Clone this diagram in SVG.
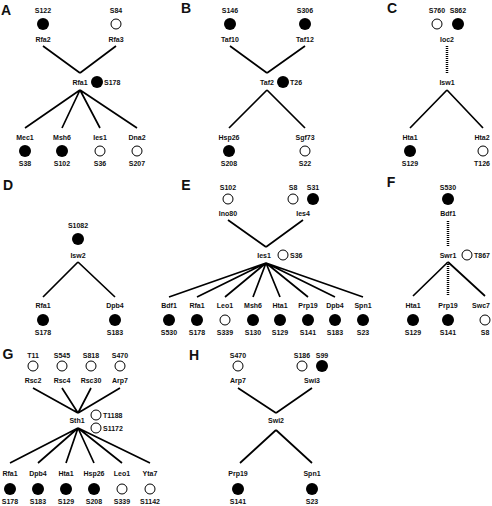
<svg xmlns="http://www.w3.org/2000/svg" width="492" height="506" viewBox="0 0 492 506">
<style>
text{font-family:"Liberation Sans",Arial,sans-serif;fill:#111}
.t{font-size:7px;font-weight:bold;text-anchor:middle}
.s{font-size:7px;font-weight:bold;text-anchor:start}
.L{font-size:14px;font-weight:bold;text-anchor:middle}
.f{fill:#000}
.o{fill:#fff;stroke:#000;stroke-width:1}
.e{stroke:#000;stroke-width:1.7;fill:none}
.d{stroke:#000;stroke-width:2.5;stroke-dasharray:1 1;fill:none}
</style>
<rect width="492" height="506" fill="#fff"/>
<g id="labels">
<text class="L" x="6" y="15">A</text>
<text class="L" x="186" y="13">B</text>
<text class="L" x="392" y="13">C</text>
<text class="L" x="8" y="190">D</text>
<text class="L" x="186" y="190">E</text>
<text class="L" x="391" y="187">F</text>
<text class="L" x="8" y="359">G</text>
<text class="L" x="194" y="360">H</text>
</g>
<g id="connectors">
<path class="e" d="M43,46L80,73M116,46L80,73M80,90L25,128M80,90L62,128M80,90L100,128M80,90L137,128"/>
<path class="e" d="M230,46L267,73M305,46L267,73M267,90L229,128M267,90L305,128"/>
<path class="d" d="M447,46L447,73"/>
<path class="e" d="M447,90L410,128M447,90L483,128"/>
<path class="e" d="M78,262L43,297M78,262L115,297"/>
<path class="e" d="M228,220L266,247M303,220L266,247M266,263L169,297M266,263L197,297M266,263L225,297M266,263L253,297M266,263L280,297M266,263L308,297M266,263L335,297M266,263L363,297"/>
<path class="d" d="M448,221L448,246M448,262L448,296"/>
<path class="e" d="M448,262L413,296M448,262L485,296"/>
<path class="e" d="M33,388L78,413M62,388L78,413M91,388L78,413M120,388L78,413M78,428L10,463M78,428L38,463M78,428L66,463M78,428L94,463M78,428L122,463M78,428L150,463"/>
<path class="e" d="M238,388L276,413M312,388L276,413M276,430L240,463M276,430L312,463"/>
</g>
<!-- Panel A -->
<g id="A_Rfa2"><text class="t" x="43" y="12.5">S122</text><circle class="f" cx="43" cy="24" r="6"/><text class="t" x="43" y="41.5">Rfa2</text></g>
<g id="A_Rfa3"><text class="t" x="116" y="12.5">S84</text><circle class="o" cx="116" cy="24" r="5"/><text class="t" x="116" y="41.5">Rfa3</text></g>
<g id="A_Rfa1"><text class="t" x="80" y="84.5">Rfa1</text><circle class="f" cx="97" cy="82" r="6"/><text class="s" x="104" y="84.5">S178</text></g>
<g id="A_Mec1"><text class="t" x="25" y="139.5">Mec1</text><circle class="f" cx="25" cy="151" r="6"/><text class="t" x="25" y="165.5">S38</text></g>
<g id="A_Msh6"><text class="t" x="62" y="139.5">Msh6</text><circle class="f" cx="62" cy="151" r="6"/><text class="t" x="62" y="165.5">S102</text></g>
<g id="A_Ies1"><text class="t" x="100" y="139.5">Ies1</text><circle class="o" cx="100" cy="151" r="5"/><text class="t" x="100" y="165.5">S36</text></g>
<g id="A_Dna2"><text class="t" x="137" y="139.5">Dna2</text><circle class="o" cx="137" cy="151" r="5"/><text class="t" x="137" y="165.5">S207</text></g>
<!-- Panel B -->
<g id="B_Taf10"><text class="t" x="230" y="12.5">S146</text><circle class="f" cx="230" cy="24" r="6"/><text class="t" x="230" y="41.5">Taf10</text></g>
<g id="B_Taf12"><text class="t" x="305" y="12.5">S306</text><circle class="f" cx="305" cy="24" r="6"/><text class="t" x="305" y="41.5">Taf12</text></g>
<g id="B_Taf2"><text class="t" x="267" y="84.5">Taf2</text><circle class="f" cx="283" cy="82" r="6"/><text class="s" x="290" y="84.5">T26</text></g>
<g id="B_Hsp26"><text class="t" x="229" y="139.5">Hsp26</text><circle class="f" cx="229" cy="151" r="6"/><text class="t" x="229" y="165.5">S208</text></g>
<g id="B_Sgf73"><text class="t" x="305" y="139.5">Sgf73</text><circle class="o" cx="305" cy="151" r="5"/><text class="t" x="305" y="165.5">S22</text></g>
<!-- Panel C -->
<g id="C_Ioc2"><text class="t" x="437" y="12.5">S760</text><circle class="o" cx="437" cy="24" r="5"/><text class="t" x="458" y="12.5">S862</text><circle class="f" cx="458" cy="24" r="6"/><text class="t" x="447" y="41.5">Ioc2</text></g>
<g id="C_Isw1"><text class="t" x="447" y="84.5">Isw1</text></g>
<g id="C_Hta1"><text class="t" x="410" y="139.5">Hta1</text><circle class="f" cx="410" cy="151" r="6"/><text class="t" x="410" y="165.5">S129</text></g>
<g id="C_Hta2"><text class="t" x="482" y="139.5">Hta2</text><circle class="o" cx="483" cy="151" r="5"/><text class="t" x="482" y="165.5">T126</text></g>
<!-- Panel D -->
<g id="D_Isw2"><text class="t" x="78" y="227.5">S1082</text><circle class="f" cx="78" cy="239" r="6"/><text class="t" x="78" y="257.5">Isw2</text></g>
<g id="D_Rfa1"><text class="t" x="43" y="307.5">Rfa1</text><circle class="f" cx="43" cy="320" r="6"/><text class="t" x="43" y="334.5">S178</text></g>
<g id="D_Dpb4"><text class="t" x="115" y="307.5">Dpb4</text><circle class="f" cx="115" cy="320" r="6"/><text class="t" x="115" y="334.5">S183</text></g>
<!-- Panel E -->
<g id="E_Ino80"><text class="t" x="228" y="189.5">S102</text><circle class="o" cx="228" cy="199" r="5"/><text class="t" x="228" y="215.5">Ino80</text></g>
<g id="E_Ies4"><text class="t" x="293" y="189.5">S8</text><circle class="o" cx="293" cy="199" r="5"/><text class="t" x="313" y="189.5">S31</text><circle class="f" cx="313" cy="199" r="6"/><text class="t" x="303" y="215.5">Ies4</text></g>
<g id="E_Ies1"><text class="t" x="264" y="257.5">Ies1</text><circle class="o" cx="283" cy="255" r="5"/><text class="s" x="290" y="257.5">S36</text></g>
<g id="E_Bdf1"><text class="t" x="169" y="307.5">Bdf1</text><circle class="f" cx="169" cy="320" r="6"/><text class="t" x="169" y="334.5">S530</text></g>
<g id="E_Rfa1"><text class="t" x="197" y="307.5">Rfa1</text><circle class="f" cx="197" cy="320" r="6"/><text class="t" x="197" y="334.5">S178</text></g>
<g id="E_Leo1"><text class="t" x="225" y="307.5">Leo1</text><circle class="o" cx="225" cy="320" r="5"/><text class="t" x="225" y="334.5">S339</text></g>
<g id="E_Msh6"><text class="t" x="253" y="307.5">Msh6</text><circle class="f" cx="253" cy="320" r="6"/><text class="t" x="253" y="334.5">S130</text></g>
<g id="E_Hta1"><text class="t" x="280" y="307.5">Hta1</text><circle class="f" cx="280" cy="320" r="6"/><text class="t" x="280" y="334.5">S129</text></g>
<g id="E_Prp19"><text class="t" x="308" y="307.5">Prp19</text><circle class="f" cx="308" cy="320" r="6"/><text class="t" x="308" y="334.5">S141</text></g>
<g id="E_Dpb4"><text class="t" x="335" y="307.5">Dpb4</text><circle class="f" cx="335" cy="320" r="6"/><text class="t" x="335" y="334.5">S183</text></g>
<g id="E_Spn1"><text class="t" x="363" y="307.5">Spn1</text><circle class="f" cx="363" cy="320" r="6"/><text class="t" x="363" y="334.5">S23</text></g>
<!-- Panel F -->
<g id="F_Bdf1"><text class="t" x="448" y="189.5">S530</text><circle class="f" cx="448" cy="199" r="6"/><text class="t" x="448" y="215.5">Bdf1</text></g>
<g id="F_Swr1"><text class="t" x="448" y="257.5">Swr1</text><circle class="o" cx="467" cy="255" r="5"/><text class="s" x="474" y="257.5">T867</text></g>
<g id="F_Hta1"><text class="t" x="413" y="307.5">Hta1</text><circle class="f" cx="413" cy="320" r="6"/><text class="t" x="413" y="334.5">S129</text></g>
<g id="F_Prp19"><text class="t" x="448" y="307.5">Prp19</text><circle class="f" cx="448" cy="320" r="6"/><text class="t" x="448" y="334.5">S141</text></g>
<g id="F_Swc7"><text class="t" x="481" y="307.5">Swc7</text><circle class="o" cx="485" cy="320" r="5"/><text class="t" x="485" y="334.5">S8</text></g>
<!-- Panel G -->
<g id="G_Rsc2"><text class="t" x="33" y="357.5">T11</text><circle class="o" cx="33" cy="366" r="5"/><text class="t" x="33" y="382.5">Rsc2</text></g>
<g id="G_Rsc4"><text class="t" x="62" y="357.5">S545</text><circle class="o" cx="62" cy="366" r="5"/><text class="t" x="62" y="382.5">Rsc4</text></g>
<g id="G_Rsc30"><text class="t" x="91" y="357.5">S818</text><circle class="o" cx="91" cy="366" r="5"/><text class="t" x="91" y="382.5">Rsc30</text></g>
<g id="G_Arp7"><text class="t" x="120" y="357.5">S470</text><circle class="o" cx="120" cy="366" r="5"/><text class="t" x="120" y="382.5">Arp7</text></g>
<g id="G_Sth1"><text class="t" x="77" y="422.5">Sth1</text><circle class="o" cx="96" cy="415" r="5"/><text class="s" x="103" y="417.5">T1188</text><circle class="o" cx="96" cy="428" r="5"/><text class="s" x="103" y="430.5">S1172</text></g>
<g id="G_Rfa1"><text class="t" x="10" y="475.5">Rfa1</text><circle class="f" cx="10" cy="489" r="6"/><text class="t" x="10" y="504">S178</text></g>
<g id="G_Dpb4"><text class="t" x="38" y="475.5">Dpb4</text><circle class="f" cx="38" cy="489" r="6"/><text class="t" x="38" y="504">S183</text></g>
<g id="G_Hta1"><text class="t" x="66" y="475.5">Hta1</text><circle class="f" cx="66" cy="489" r="6"/><text class="t" x="66" y="504">S129</text></g>
<g id="G_Hsp26"><text class="t" x="94" y="475.5">Hsp26</text><circle class="f" cx="94" cy="489" r="6"/><text class="t" x="94" y="504">S208</text></g>
<g id="G_Leo1"><text class="t" x="122" y="475.5">Leo1</text><circle class="o" cx="122" cy="489" r="5"/><text class="t" x="122" y="504">S339</text></g>
<g id="G_Yta7"><text class="t" x="150" y="475.5">Yta7</text><circle class="o" cx="150" cy="489" r="5"/><text class="t" x="150" y="504">S1142</text></g>
<!-- Panel H -->
<g id="H_Arp7"><text class="t" x="238" y="357.5">S470</text><circle class="o" cx="238" cy="366" r="5"/><text class="t" x="238" y="382.5">Arp7</text></g>
<g id="H_Swi3"><text class="t" x="302" y="357.5">S186</text><circle class="o" cx="302" cy="366" r="5"/><text class="t" x="322" y="357.5">S99</text><circle class="f" cx="322" cy="366" r="6"/><text class="t" x="312" y="382.5">Swi3</text></g>
<g id="H_Swi2"><text class="t" x="276" y="422.5">Swi2</text></g>
<g id="H_Prp19"><text class="t" x="238" y="475.5">Prp19</text><circle class="f" cx="238" cy="489" r="6"/><text class="t" x="238" y="504">S141</text></g>
<g id="H_Spn1"><text class="t" x="312" y="475.5">Spn1</text><circle class="f" cx="312" cy="489" r="6"/><text class="t" x="312" y="504">S23</text></g>
</svg>
